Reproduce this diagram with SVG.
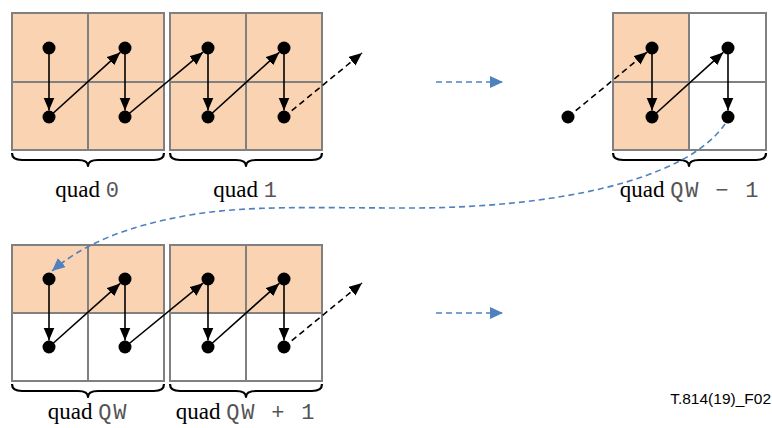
<svg xmlns="http://www.w3.org/2000/svg" width="772" height="428" viewBox="0 0 772 428">
<style>
.cell{fill:#FAD3B3}
.white{fill:#ffffff}
.grid{fill:none;stroke:#808080;stroke-width:2}
.dot{fill:#000}
.brace{fill:none;stroke:#000;stroke-width:2.2;stroke-linejoin:round}
.ar{stroke:#000;stroke-width:1.6;fill:none;marker-end:url(#ah)}
.ard{stroke:#000;stroke-width:1.6;fill:none;stroke-dasharray:6 4;marker-end:url(#ah)}
.blue{stroke:#4F81BD;stroke-width:1.6;fill:none;stroke-dasharray:6 4;marker-end:url(#bh)}
.lbl{font-size:23px;text-anchor:middle;fill:#000}
.serif{font-family:"Liberation Serif","Times New Roman",serif;font-size:23px}
.mono{font-family:"Liberation Mono","Courier New",monospace;font-size:22px;letter-spacing:1.8px;fill:#555}
.fig{font-family:"Liberation Sans",Arial,sans-serif;font-size:15.5px;text-anchor:end;fill:#000}
</style>
<defs>
<marker id="ah" markerUnits="userSpaceOnUse" markerWidth="14" markerHeight="12" refX="13" refY="5.5" orient="auto">
<path d="M0,0 L13,5.5 L0,11 z" fill="#000"/>
</marker>
<marker id="bh" markerUnits="userSpaceOnUse" markerWidth="14" markerHeight="14" refX="13" refY="6" orient="auto">
<path d="M0,0 L13,6 L0,12 z" fill="#4F81BD"/>
</marker>
</defs>

<g id="quad0">
<rect class="cell" x="12" y="13" width="152" height="137"/>
<rect class="grid" x="12" y="13" width="152" height="137"/>
<path class="grid" d="M88,13 V150 M12,82 H164"/>
<circle class="dot" cx="49" cy="48" r="6.5"/>
<circle class="dot" cx="49" cy="117" r="6.5"/>
<circle class="dot" cx="125" cy="48" r="6.5"/>
<circle class="dot" cx="125" cy="117" r="6.5"/>
<path class="brace" d="M12,153 Q12,160 22,160 L78,160 Q88,160 88,166 Q88,160 98,160 L154,160 Q164,160 164,153"/>
<text class="lbl" x="88" y="197"><tspan class="serif">quad </tspan><tspan class="mono">0</tspan></text>
</g>

<g id="quad1">
<rect class="cell" x="170" y="13" width="152" height="137"/>
<rect class="grid" x="170" y="13" width="152" height="137"/>
<path class="grid" d="M246,13 V150 M170,82 H322"/>
<circle class="dot" cx="208" cy="48" r="6.5"/>
<circle class="dot" cx="208" cy="117" r="6.5"/>
<circle class="dot" cx="284" cy="48" r="6.5"/>
<circle class="dot" cx="284" cy="117" r="6.5"/>
<path class="brace" d="M170,153 Q170,160 180,160 L236,160 Q246,160 246,166 Q246,160 256,160 L312,160 Q322,160 322,153"/>
<text class="lbl" x="246" y="197"><tspan class="serif">quad </tspan><tspan class="mono">1</tspan></text>
</g>

<g id="quadQWm1">
<rect class="white" x="613" y="13" width="153" height="137"/>
<rect class="cell" x="613" y="13" width="76" height="137"/>
<rect class="grid" x="613" y="13" width="153" height="137"/>
<path class="grid" d="M689,13 V150 M613,82 H766"/>
<circle class="dot" cx="568" cy="117" r="6.5"/>
<circle class="dot" cx="652" cy="48" r="6.5"/>
<circle class="dot" cx="652" cy="117" r="6.5"/>
<circle class="dot" cx="728" cy="48" r="6.5"/>
<circle class="dot" cx="728" cy="117" r="6.5"/>
<path class="brace" d="M613,153 Q613,160 623,160 L679,160 Q689,160 689,166 Q689,160 699,160 L756,160 Q766,160 766,153"/>
<text class="lbl" x="690" y="197"><tspan class="serif">quad </tspan><tspan class="mono">QW − 1</tspan></text>
</g>

<g id="quadQW">
<rect class="white" x="12" y="245" width="152" height="136"/>
<rect class="cell" x="12" y="245" width="152" height="68"/>
<rect class="grid" x="12" y="245" width="152" height="136"/>
<path class="grid" d="M88,245 V381 M12,313 H164"/>
<circle class="dot" cx="49" cy="279" r="6.5"/>
<circle class="dot" cx="49" cy="347" r="6.5"/>
<circle class="dot" cx="125" cy="279" r="6.5"/>
<circle class="dot" cx="125" cy="347" r="6.5"/>
<path class="brace" d="M12,384 Q12,391 22,391 L78,391 Q88,391 88,397 Q88,391 98,391 L154,391 Q164,391 164,384"/>
<text class="lbl" x="88" y="419"><tspan class="serif">quad </tspan><tspan class="mono">QW</tspan></text>
</g>

<g id="quadQWp1">
<rect class="white" x="170" y="245" width="152" height="136"/>
<rect class="cell" x="170" y="245" width="152" height="68"/>
<rect class="grid" x="170" y="245" width="152" height="136"/>
<path class="grid" d="M246,245 V381 M170,313 H322"/>
<circle class="dot" cx="208" cy="279" r="6.5"/>
<circle class="dot" cx="208" cy="347" r="6.5"/>
<circle class="dot" cx="284" cy="279" r="6.5"/>
<circle class="dot" cx="284" cy="347" r="6.5"/>
<path class="brace" d="M170,384 Q170,391 180,391 L236,391 Q246,391 246,397 Q246,391 256,391 L312,391 Q322,391 322,384"/>
<text class="lbl" x="246" y="419"><tspan class="serif">quad </tspan><tspan class="mono">QW + 1</tspan></text>
</g>

<g id="connectors">
<line class="ar" x1="49" y1="48" x2="49" y2="110.5"/>
<line class="ar" x1="49" y1="117" x2="120.2" y2="52.4"/>
<line class="ar" x1="125" y1="48" x2="125" y2="110.5"/>
<line class="ar" x1="125" y1="117" x2="203" y2="52.2"/>
<line class="ar" x1="208" y1="48" x2="208" y2="110.5"/>
<line class="ar" x1="208" y1="117" x2="279.2" y2="52.4"/>
<line class="ar" x1="284" y1="48" x2="284" y2="110.5"/>
<line class="ard" x1="284" y1="117" x2="362" y2="53"/>

<line class="ard" x1="568" y1="117" x2="647" y2="52.1"/>
<line class="ar" x1="652" y1="48" x2="652" y2="110.5"/>
<line class="ar" x1="652" y1="117" x2="723.2" y2="52.4"/>
<line class="ar" x1="728" y1="48" x2="728" y2="110.5"/>

<line class="ar" x1="49" y1="279" x2="49" y2="340.5"/>
<line class="ar" x1="49" y1="347" x2="120.2" y2="283.4"/>
<line class="ar" x1="125" y1="279" x2="125" y2="340.5"/>
<line class="ar" x1="125" y1="347" x2="203" y2="283.2"/>
<line class="ar" x1="208" y1="279" x2="208" y2="340.5"/>
<line class="ar" x1="208" y1="347" x2="279.2" y2="283.4"/>
<line class="ar" x1="284" y1="279" x2="284" y2="340.5"/>
<line class="ard" x1="284" y1="347" x2="362" y2="283"/>

<line class="blue" x1="436" y1="82" x2="503" y2="82"/>
<line class="blue" x1="436" y1="313" x2="503" y2="313"/>
<path class="blue" d="M725,124 C685,182 550,208 410,208 C310,208 250,205 190,215 C125,226 82,245 52,271"/>
</g>

<text class="fig" x="771" y="404">T.814(19)_F02</text>
</svg>
